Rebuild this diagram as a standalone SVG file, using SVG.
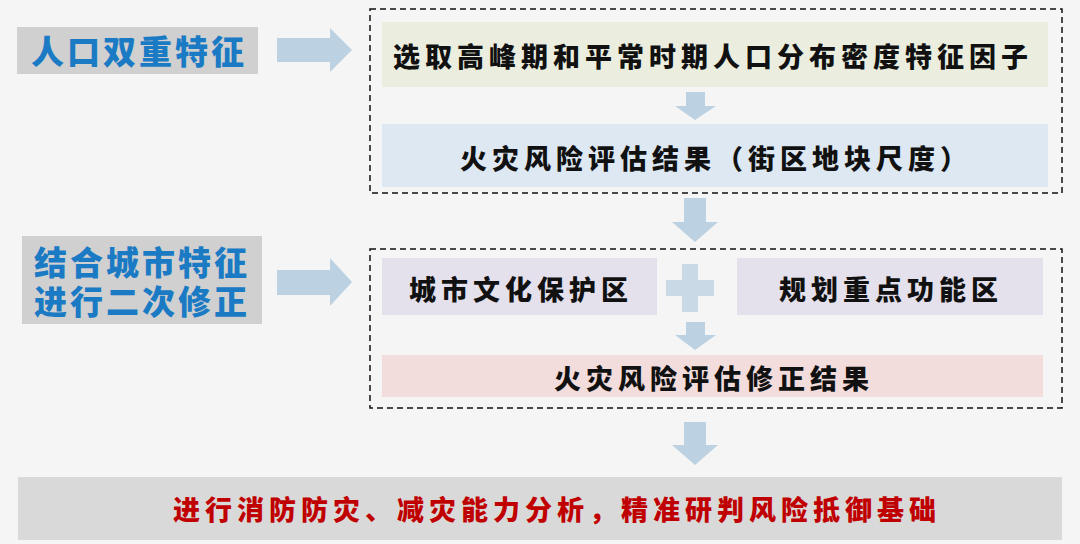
<svg xmlns="http://www.w3.org/2000/svg" width="1080" height="544" viewBox="0 0 1080 544">
<style>
text{font-family:"Noto Sans CJK SC","Noto Sans CJK JP",sans-serif;font-weight:900;text-anchor:middle;dominant-baseline:central}
.lab{fill:#1a7ac4;font-size:33px;letter-spacing:3px}
.bk{fill:#111;font-size:27px;letter-spacing:5px}
.dash{fill:none;stroke:#111;stroke-width:1.5;stroke-dasharray:6 4}
.arr{fill:#bcd2e2}
</style>
<rect width="1080" height="544" fill="#f5f5f5"/>
<g id="label1"><rect x="17" y="27" width="241" height="47" fill="#d0d0d0"/><text class="lab" x="139" y="50">人口双重特征</text></g>
<g id="label2"><rect x="22" y="236" width="240" height="88" fill="#d0d0d0"/><text class="lab" x="142" y="261">结合城市特征</text><text class="lab" x="142" y="300">进行二次修正</text></g>
<g id="group1"><rect class="dash" x="370" y="9" width="692" height="184"/></g>
<g id="group2"><rect class="dash" x="370" y="249" width="692" height="159"/></g>
<g id="n1"><rect x="382" y="22" width="666" height="65" fill="#ebeedf"/><text class="bk" x="713" y="55">选取高峰期和平常时期人口分布密度特征因子</text></g>
<g id="n2"><rect x="382" y="124" width="666" height="63" fill="#dde8f3"/><text class="bk" x="716" y="157">火灾风险评估结果（街区地块尺度）</text></g>
<g id="n3"><rect x="382" y="258" width="275" height="57" fill="#e4e0ec"/><text class="bk" x="521" y="288">城市文化保护区</text></g>
<g id="n4"><rect x="737" y="258" width="306" height="57" fill="#e4e0ec"/><text class="bk" x="891" y="288">规划重点功能区</text></g>
<g id="n5"><rect x="382" y="355" width="661" height="42" fill="#f2dcdc"/><text class="bk" x="714" y="377">火灾风险评估修正结果</text></g>
<g id="n6"><rect x="18" y="477" width="1044" height="63" fill="#d9d9d9"/><text x="557" y="508" style="fill:#c00000;font-size:27px;letter-spacing:5px">进行消防防灾、减灾能力分析，精准研判风险抵御基础</text></g>
<g id="connectors">
<polygon class="arr" points="277,38 330,38 330,28 352,50 330,72 330,62 277,62"/>
<polygon class="arr" points="277,270 330,270 330,258 352,282 330,306 330,295 277,295"/>
<polygon class="arr" points="686,92 705,92 705,106 716,106 695,120 675,106 686,106"/>
<polygon class="arr" points="684,198 706,198 706,222 718,222 695,242 672,222 684,222"/>
<polygon class="arr" points="686,322 705,322 705,335 716,335 695,350 675,335 686,335"/>
<polygon class="arr" points="684,422 706,422 706,445 718,445 695,465 672,445 684,445"/>
<path fill="#c9d9e6" d="M682,264h16v16h16v16h-16v16h-16v-16h-16v-16h16z"/>
</g>
</svg>
